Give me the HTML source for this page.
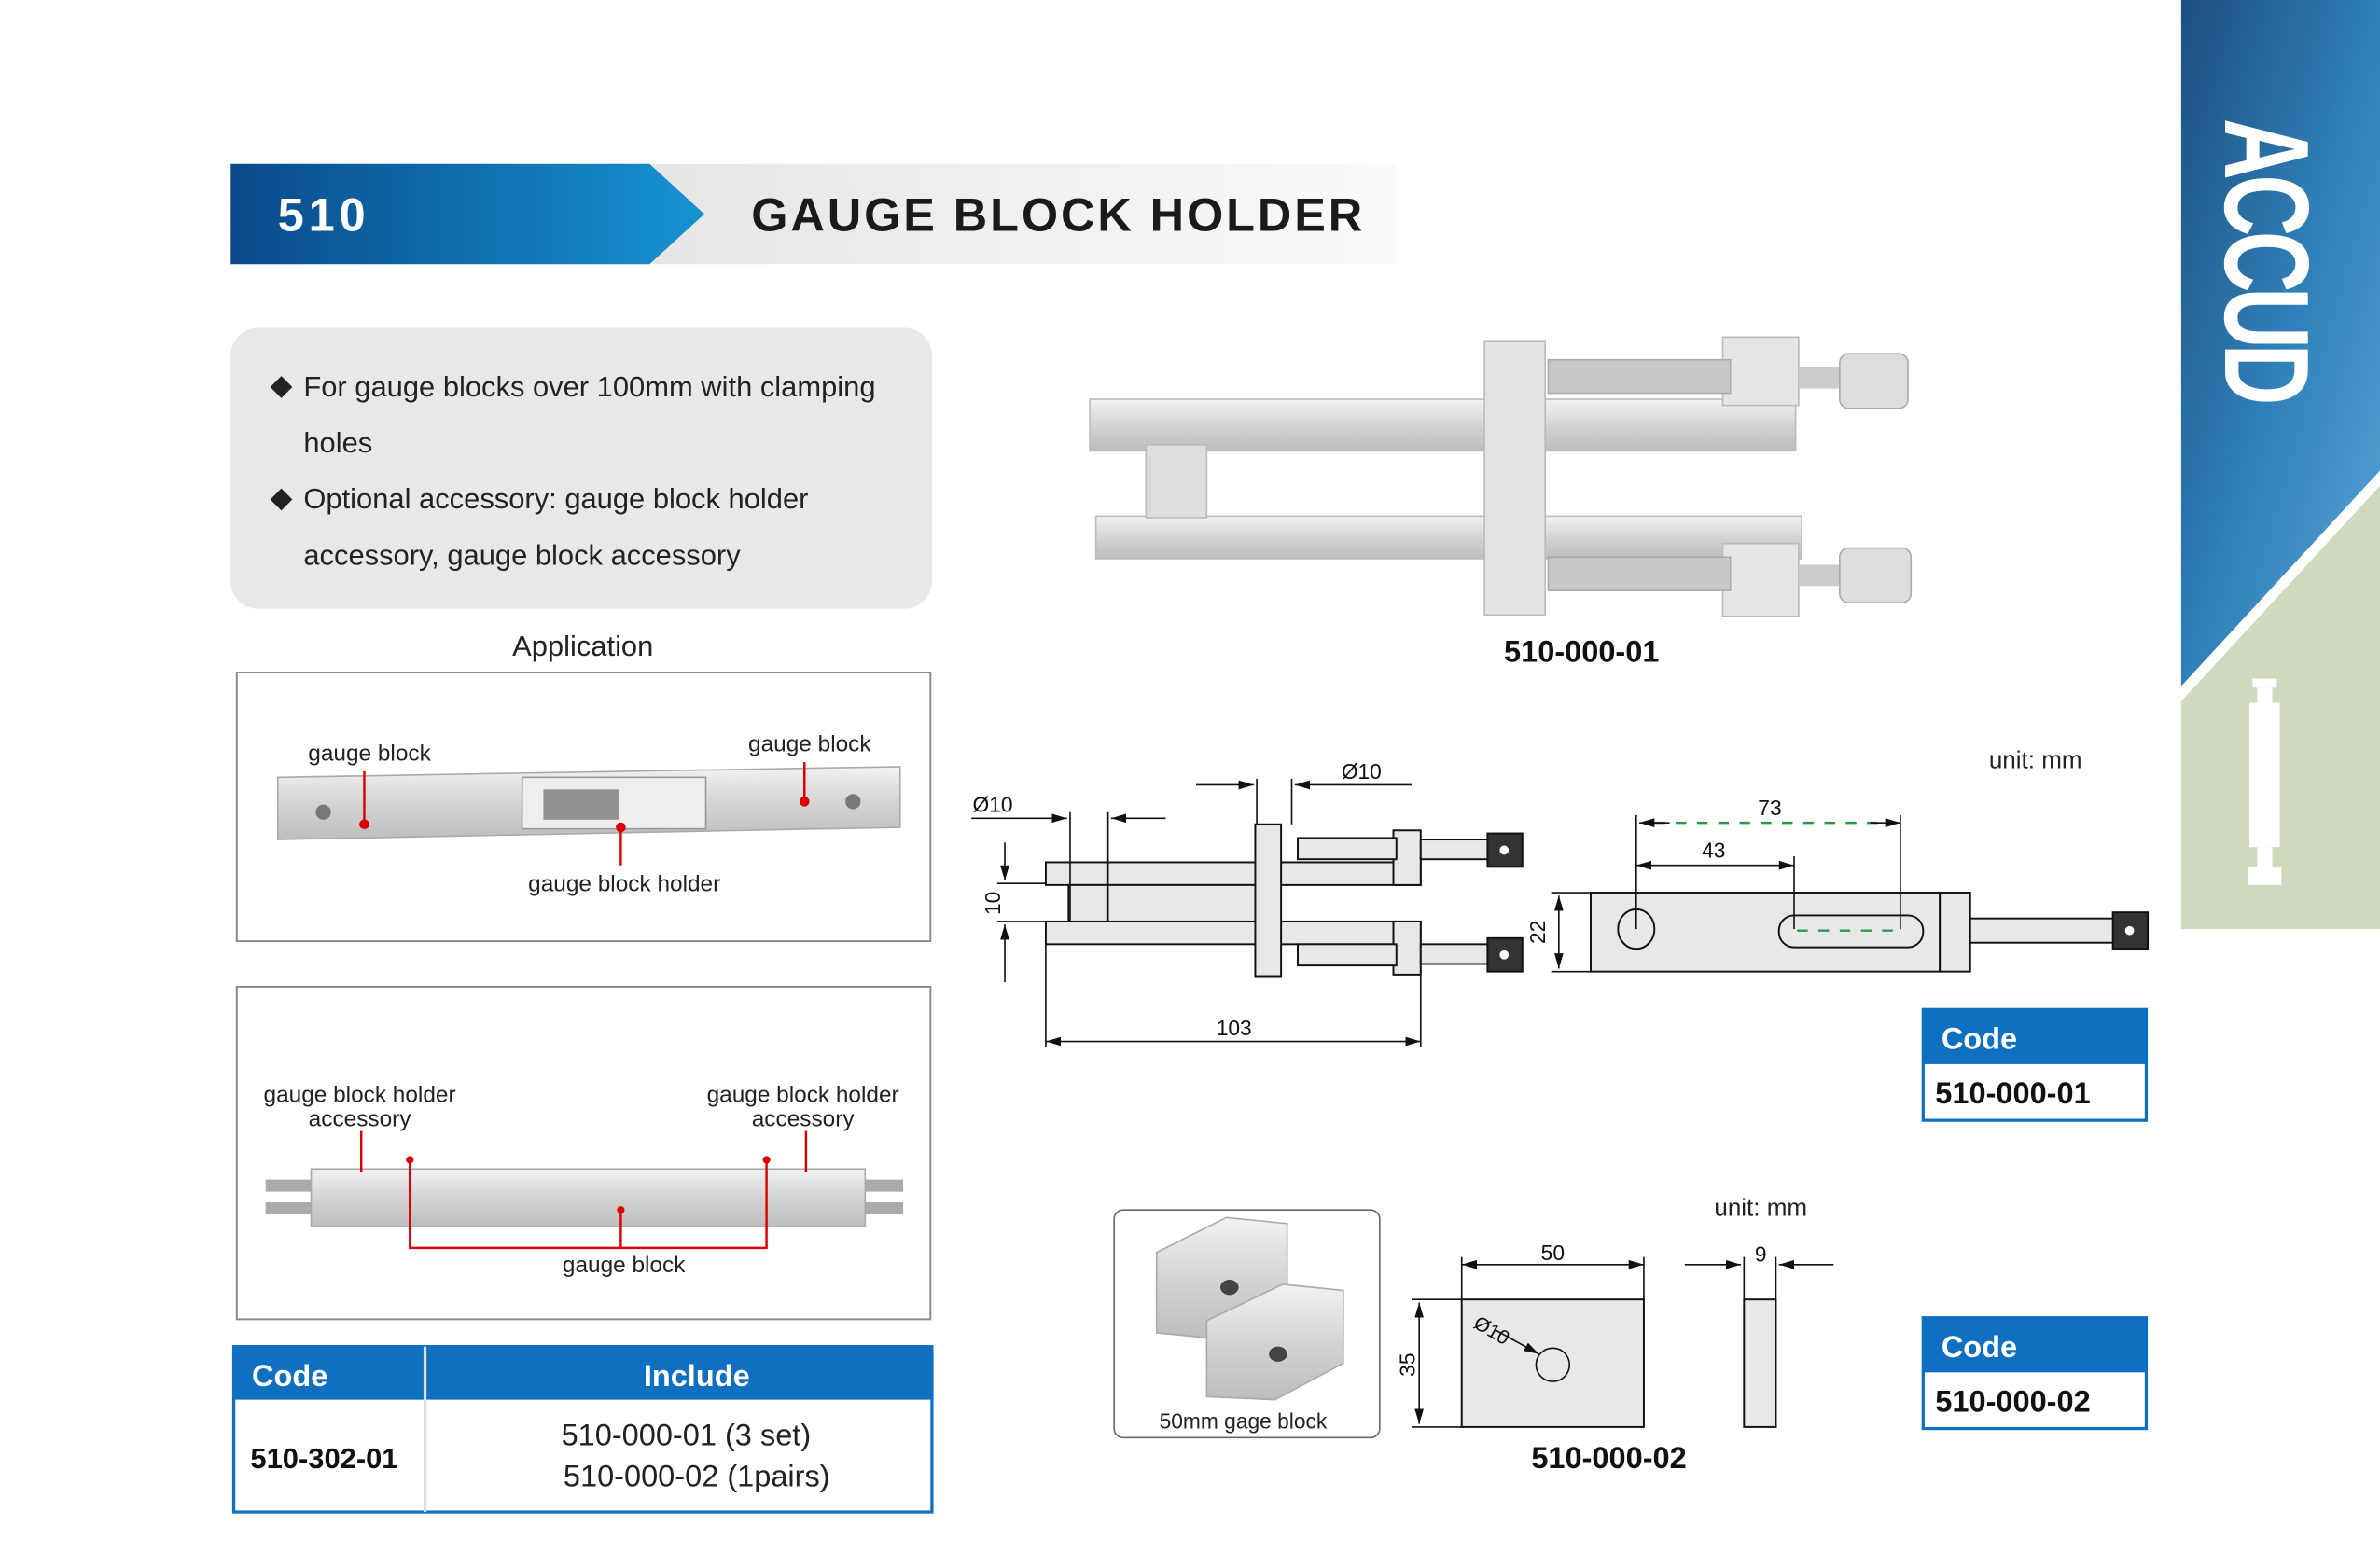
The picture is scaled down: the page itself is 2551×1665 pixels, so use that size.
<!DOCTYPE html>
<html><head><meta charset="utf-8"><style>
html,body{margin:0;padding:0;background:#fff;}
svg{display:block;}
text{font-family:"Liberation Sans",sans-serif;}
</style></head><body>
<svg width="2551" height="1665" viewBox="0 0 1568 1023" preserveAspectRatio="none" xmlns="http://www.w3.org/2000/svg">
<defs>
<linearGradient id="hb" x1="0" x2="1"><stop offset="0" stop-color="#0a4a8a"/><stop offset="1" stop-color="#1693d2"/></linearGradient>
<linearGradient id="hg" x1="0" x2="1"><stop offset="0" stop-color="#e6e6e6"/><stop offset="1" stop-color="#fafafa"/></linearGradient>
<linearGradient id="sb" x1="0" y1="0" x2="1" y2="1"><stop offset="0" stop-color="#1d4f7e"/><stop offset="0.5" stop-color="#2f7fb8"/><stop offset="1" stop-color="#5aa6d8"/></linearGradient>
<linearGradient id="met" x1="0" y1="0" x2="0" y2="1"><stop offset="0" stop-color="#f2f2f2"/><stop offset="0.5" stop-color="#d4d4d4"/><stop offset="1" stop-color="#bdbdbd"/></linearGradient>
<marker id="ar" viewBox="0 0 10 6" refX="10" refY="3" markerWidth="10" markerHeight="6" orient="auto-start-reverse" markerUnits="userSpaceOnUse"><path d="M0,0L10,3L0,6z" fill="#111"/></marker>
</defs>
<!-- header -->
<rect x="430" y="108" width="490" height="66" fill="url(#hg)"/>
<path d="M152,108H428L464,141L428,174H152Z" fill="url(#hb)"/>
<text x="183" y="152" font-size="31" font-weight="bold" fill="#fff" letter-spacing="3">510</text>
<text x="495" y="152" font-size="31" font-weight="bold" fill="#1a1a1a" letter-spacing="1.8">GAUGE BLOCK HOLDER</text>
<!-- sidebar -->
<path d="M1437,0H1568V310L1437,452Z" fill="url(#sb)"/>
<path d="M1437,462L1568,320V612H1437Z" fill="#cfd9bd"/>
<text transform="translate(1466,78) rotate(90) scale(0.85,1.2)" font-size="66" font-weight="bold" fill="#fff" letter-spacing="-4">ACCUD</text>
<rect x="1484" y="447" width="16" height="6" fill="#fff"/><rect x="1487" y="453" width="10" height="10" fill="#fff"/>
<rect x="1482" y="463" width="20" height="95" fill="#fff"/><rect x="1487" y="558" width="10" height="13" fill="#fff"/><rect x="1481" y="571" width="22" height="12" fill="#fff"/>
<!-- features box -->
<rect x="152" y="216" width="462" height="185" rx="18" fill="#e8e8e8"/>
<g font-size="19" fill="#222">
<text x="178" y="260">◆</text><text x="200" y="261">For gauge blocks over 100mm with clamping</text>
<text x="200" y="298">holes</text>
<text x="178" y="334">◆</text><text x="200" y="335">Optional accessory: gauge block holder</text>
<text x="200" y="372">accessory, gauge block accessory</text>
</g>
<text x="384" y="432" font-size="19" text-anchor="middle" fill="#222">Application</text>
<!-- app box 1 -->
<rect x="156" y="443" width="457" height="177" fill="#fff" stroke="#888" stroke-width="1.2"/>
<path d="M183,512L593,505L593,545L183,553Z" fill="url(#met)" stroke="#aaa"/>
<rect x="344" y="512" width="121" height="34" fill="#eee" stroke="#999"/>
<rect x="358" y="520" width="50" height="20" fill="#555" opacity=".6"/>
<circle cx="213" cy="535" r="5" fill="#777"/><circle cx="562" cy="528" r="5" fill="#777"/>
<g stroke="#d00" stroke-width="1.5" fill="#d00"><line x1="240" y1="508" x2="240" y2="543"/><circle cx="240" cy="543" r="2.5"/>
<line x1="530" y1="502" x2="530" y2="528"/><circle cx="530" cy="528" r="2.5"/>
<line x1="409" y1="545" x2="409" y2="570"/><circle cx="409" cy="545" r="2.5"/></g>
<g font-size="15" fill="#222"><text x="203" y="501">gauge block</text><text x="493" y="495">gauge block</text><text x="348" y="587">gauge block holder</text></g>
<!-- app box 2 -->
<rect x="156" y="650" width="457" height="219" fill="#fff" stroke="#888" stroke-width="1.2"/>
<rect x="205" y="770" width="365" height="38" fill="url(#met)" stroke="#aaa"/>
<rect x="175" y="777" width="30" height="8" fill="#aaa"/><rect x="570" y="777" width="25" height="8" fill="#aaa"/>
<rect x="175" y="792" width="30" height="8" fill="#aaa"/><rect x="570" y="792" width="25" height="8" fill="#aaa"/>
<g stroke="#d00" stroke-width="1.5" fill="none"><line x1="238" y1="745" x2="238" y2="772"/><line x1="531" y1="745" x2="531" y2="772"/>
<path d="M270,764V822H505V764"/><line x1="409" y1="797" x2="409" y2="822"/></g>
<g fill="#d00"><circle cx="270" cy="764" r="2.5"/><circle cx="505" cy="764" r="2.5"/><circle cx="409" cy="797" r="2.5"/></g>
<g font-size="15" fill="#222" text-anchor="middle"><text x="237" y="726">gauge block holder</text><text x="237" y="742">accessory</text>
<text x="529" y="726">gauge block holder</text><text x="529" y="742">accessory</text><text x="411" y="838">gauge block</text></g>
<!-- code table -->
<rect x="154" y="887" width="460" height="109" fill="#fff" stroke="#0f6fc0" stroke-width="2"/>
<rect x="154" y="887" width="460" height="35" fill="#0f6fc0"/>
<line x1="280" y1="887" x2="280" y2="996" stroke="#ddd" stroke-width="2"/>
<text x="166" y="913" font-size="20" font-weight="bold" fill="#fff">Code</text>
<text x="459" y="913" font-size="20" font-weight="bold" fill="#fff" text-anchor="middle">Include</text>
<text x="165" y="967" font-size="19" font-weight="bold" fill="#111">510-302-01</text>
<text x="452" y="952" font-size="20" fill="#222" text-anchor="middle">510-000-01 (3 set)</text>
<text x="459" y="979" font-size="20" fill="#222" text-anchor="middle">510-000-02 (1pairs)</text>
<!-- product photo -->
<rect x="718" y="263" width="465" height="34" fill="url(#met)" stroke="#bbb"/>
<rect x="722" y="340" width="465" height="28" fill="url(#met)" stroke="#bbb"/>
<rect x="755" y="293" width="40" height="48" fill="#ddd" stroke="#bbb"/>
<rect x="978" y="225" width="40" height="180" fill="#e3e3e3" stroke="#bbb"/>
<rect x="1135" y="222" width="50" height="45" fill="#e6e6e6" stroke="#bbb"/>
<rect x="1135" y="358" width="50" height="48" fill="#e6e6e6" stroke="#bbb"/>
<rect x="1020" y="237" width="120" height="22" fill="#c8c8c8" stroke="#aaa"/>
<rect x="1020" y="367" width="120" height="22" fill="#c8c8c8" stroke="#aaa"/>
<rect x="1185" y="242" width="30" height="14" fill="#ccc"/><rect x="1185" y="372" width="30" height="14" fill="#ccc"/>
<rect x="1212" y="233" width="45" height="36" rx="6" fill="#ddd" stroke="#aaa"/>
<rect x="1212" y="361" width="47" height="36" rx="6" fill="#ddd" stroke="#aaa"/>
<text x="1042" y="436" font-size="20" font-weight="bold" text-anchor="middle" fill="#111">510-000-01</text>
<!-- drawing 1 -->
<g stroke="#111" stroke-width="1.2" fill="#e8e8e8">
<rect x="689" y="568" width="247" height="15"/><rect x="689" y="607" width="247" height="15"/>
<rect x="704" y="583" width="126" height="24"/>
<rect x="827" y="543" width="17" height="100"/>
<rect x="918" y="547" width="18" height="36"/><rect x="918" y="607" width="18" height="35"/>
<rect x="855" y="552" width="65" height="14"/><rect x="855" y="622" width="65" height="14"/>
<rect x="936" y="553" width="47" height="13"/><rect x="936" y="622" width="47" height="13"/>
<rect x="980" y="549" width="23" height="22" fill="#333"/><rect x="980" y="618" width="23" height="22" fill="#333"/>
<rect x="1048" y="588" width="230" height="52"/>
<rect x="1278" y="588" width="20" height="52"/>
<rect x="1298" y="605" width="95" height="16"/>
<rect x="1392" y="601" width="23" height="24" fill="#333"/>
<rect x="1172" y="603" width="95" height="21" rx="10"/>
<ellipse cx="1078" cy="612" rx="12" ry="13"/>
</g>
<circle cx="991" cy="560" r="3" fill="#fff"/><circle cx="991" cy="629" r="3" fill="#fff"/><circle cx="1403" cy="613" r="3" fill="#fff"/>
<g stroke="#111" stroke-width="1" fill="none">
<line x1="705" y1="535" x2="705" y2="607"/><line x1="730" y1="535" x2="730" y2="607"/>
<line x1="640" y1="539" x2="703" y2="539" marker-end="url(#ar)"/><line x1="768" y1="539" x2="732" y2="539" marker-end="url(#ar)"/>
<line x1="828" y1="513" x2="828" y2="543"/><line x1="851" y1="513" x2="851" y2="543"/>
<line x1="788" y1="517" x2="826" y2="517" marker-end="url(#ar)"/><line x1="930" y1="517" x2="853" y2="517" marker-end="url(#ar)"/>
<line x1="657" y1="582" x2="689" y2="582"/><line x1="657" y1="607" x2="689" y2="607"/>
<line x1="662" y1="555" x2="662" y2="580" marker-end="url(#ar)"/><line x1="662" y1="647" x2="662" y2="609" marker-end="url(#ar)"/>
<line x1="689" y1="622" x2="689" y2="690"/><line x1="936" y1="642" x2="936" y2="690"/>
<line x1="689" y1="686" x2="936" y2="686" marker-start="url(#ar)" marker-end="url(#ar)"/>
<line x1="1022" y1="588" x2="1048" y2="588"/><line x1="1022" y1="640" x2="1048" y2="640"/>
<line x1="1027" y1="590" x2="1027" y2="638" marker-start="url(#ar)" marker-end="url(#ar)"/>
<line x1="1078" y1="537" x2="1078" y2="612"/><line x1="1182" y1="564" x2="1182" y2="612"/><line x1="1252" y1="537" x2="1252" y2="612"/>
<line x1="1078" y1="570" x2="1182" y2="570" marker-start="url(#ar)" marker-end="url(#ar)"/>
</g>
<line x1="1090" y1="542" x2="1240" y2="542" stroke="#2a9a4a" stroke-width="1.5" stroke-dasharray="7,7"/>
<line x1="1080" y1="542" x2="1100" y2="542" stroke="#111" marker-start="url(#ar)"/>
<line x1="1232" y1="542" x2="1252" y2="542" stroke="#111" marker-end="url(#ar)"/>
<line x1="1184" y1="613" x2="1250" y2="613" stroke="#2a9a4a" stroke-width="1.5" stroke-dasharray="7,7"/>
<g font-size="14" fill="#111" text-anchor="middle">
<text x="654" y="535">Ø10</text><text x="897" y="513">Ø10</text><text x="813" y="682">103</text>
<text x="1166" y="537">73</text><text x="1129" y="565">43</text>
<text transform="translate(659,595) rotate(-90)">10</text><text transform="translate(1018,614) rotate(-90)">22</text>
</g>
<text x="1341" y="506" font-size="16" text-anchor="middle" fill="#222">unit: mm</text>
<!-- code boxes -->
<rect x="1267" y="665" width="147" height="73" fill="#fff" stroke="#0f6fc0" stroke-width="2"/>
<rect x="1267" y="665" width="147" height="36" fill="#0f6fc0"/>
<text x="1279" y="691" font-size="20" font-weight="bold" fill="#fff">Code</text>
<text x="1275" y="727" font-size="20" font-weight="bold" fill="#111">510-000-01</text>
<rect x="1267" y="868" width="147" height="73" fill="#fff" stroke="#0f6fc0" stroke-width="2"/>
<rect x="1267" y="868" width="147" height="36" fill="#0f6fc0"/>
<text x="1279" y="894" font-size="20" font-weight="bold" fill="#fff">Code</text>
<text x="1275" y="930" font-size="20" font-weight="bold" fill="#111">510-000-02</text>
<!-- gage block -->
<rect x="734" y="797" width="175" height="150" rx="6" fill="#fff" stroke="#666"/>
<path d="M762,825L808,802L848,806L848,856L804,882L762,878Z" fill="url(#met)" stroke="#aaa"/>
<path d="M795,870L845,846L885,850L885,898L840,922L795,920Z" fill="url(#met)" stroke="#aaa"/>
<ellipse cx="810" cy="848" rx="6" ry="5" fill="#444"/><ellipse cx="842" cy="892" rx="6" ry="5" fill="#444"/>
<text x="819" y="941" font-size="14" fill="#222" text-anchor="middle">50mm gage block</text>
<rect x="963" y="856" width="120" height="84" fill="#e8e8e8" stroke="#111" stroke-width="1.2"/>
<circle cx="1023" cy="899" r="11" fill="#e8e8e8" stroke="#111"/>
<line x1="985" y1="876" x2="1014" y2="892" stroke="#111" marker-end="url(#ar)"/>
<text transform="translate(970,874) rotate(30)" font-size="13" fill="#111">Ø10</text>
<rect x="1149" y="856" width="21" height="84" fill="#e8e8e8" stroke="#111" stroke-width="1.2"/>
<g stroke="#111" fill="none">
<line x1="963" y1="828" x2="963" y2="856"/><line x1="1083" y1="828" x2="1083" y2="856"/>
<line x1="963" y1="833" x2="1083" y2="833" marker-start="url(#ar)" marker-end="url(#ar)"/>
<line x1="930" y1="856" x2="963" y2="856"/><line x1="930" y1="940" x2="963" y2="940"/>
<line x1="935" y1="858" x2="935" y2="938" marker-start="url(#ar)" marker-end="url(#ar)"/>
<line x1="1149" y1="828" x2="1149" y2="856"/><line x1="1170" y1="828" x2="1170" y2="856"/>
<line x1="1110" y1="833" x2="1147" y2="833" marker-end="url(#ar)"/><line x1="1208" y1="833" x2="1172" y2="833" marker-end="url(#ar)"/>
</g>
<g font-size="14" fill="#111" text-anchor="middle"><text x="1023" y="830">50</text><text x="1160" y="831">9</text>
<text transform="translate(932,899) rotate(-90)">35</text></g>
<text x="1160" y="801" font-size="16" text-anchor="middle" fill="#222">unit: mm</text>
<text x="1060" y="967" font-size="20" font-weight="bold" text-anchor="middle" fill="#111">510-000-02</text>
</svg>
</body></html>
